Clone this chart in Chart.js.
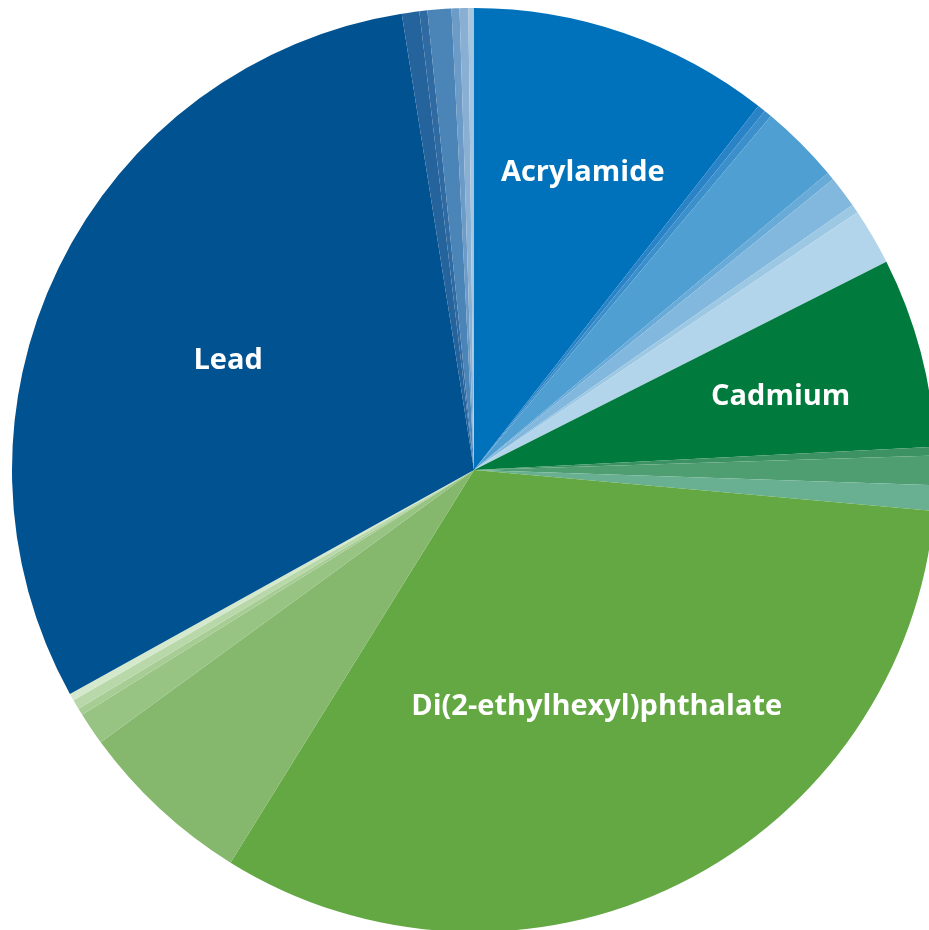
<!DOCTYPE html>
<html>
<head>
<meta charset="utf-8">
<script src="https://cdn.jsdelivr.net/npm/chart.js@4"></script>
<style>
    html, body { margin: 0; padding: 0; background: #fff; overflow: hidden; }
    #wrap { position: absolute; left: 0; top: 0; width: 948px; height: 940px; }
</style>
</head>
<body>
<div id="wrap"><canvas id="pieChart"></canvas></div>
<script>
// slice names (null = unlabelled small slice)
const sliceNames = [
    'Acrylamide', null, null, null, null, null, null, null,
    'Cadmium', null, null, null,
    'Di(2-ethylhexyl)phthalate', null, null, null, null, null,
    'Lead', null, null, null, null, null, null
];

// shares (degrees of the circle)
const sliceValues = [
    38.0, 1.0, 1.0, 10.0, 1.0, 4.0, 1.1, 7.1,
    23.9, 1.1, 3.7, 3.2,
    116.7, 22.1, 4.1, 0.9, 1.2, 0.9,
    110.0, 2.2, 1.0, 3.0, 1.0, 1.1, 0.7
];

const sliceColors = [
    '#0072bc', '#2a83c6', '#3b8fcb', '#4f9fd3', '#68aad8', '#82b8dd', '#9cc8e4', '#b3d5eb',
    '#007a3d', '#3d9263', '#4f9e71', '#69b092',
    '#63a843', '#85b86c', '#97c383', '#a7cd95', '#b8d8aa', '#d4e8cc',
    '#005291', '#25639d', '#2f6aa2', '#4b84b6', '#6b9bc6', '#89b0d3', '#a6c5df'
];

// where each name sits: fraction of radius, plus a small pixel nudge
const labelSpots = {
    'Acrylamide': { r: 0.69, dx: 5, dy: 4 },
    'Cadmium': { r: 0.68, dx: 3, dy: 7 },
    'Di(2-ethylhexyl)phthalate': { r: 0.57, dx: 5, dy: 1 },
    'Lead': { r: 0.585, dx: -3, dy: 9 }
};

const sliceLabels = {
    id: 'sliceLabels',
    afterDatasetsDraw(chart) {
        const ctx = chart.ctx;
        const meta = chart.getDatasetMeta(0);
        ctx.save();
        ctx.fillStyle = '#ffffff';
        ctx.font = 'bold 29px "Open Sans"';
        ctx.textAlign = 'center';
        ctx.textBaseline = 'middle';
        meta.data.forEach((arc, i) => {
            const name = sliceNames[i];
            if (!name) return;
            const spot = labelSpots[name];
            const p = arc.getProps(['x', 'y', 'startAngle', 'endAngle', 'outerRadius'], true);
            const mid = (p.startAngle + p.endAngle) / 2;
            const r = p.outerRadius * spot.r;
            ctx.fillText(name, p.x + Math.cos(mid) * r + spot.dx, p.y + Math.sin(mid) * r + spot.dy);
        });
        ctx.restore();
    }
};

new Chart(document.getElementById('pieChart'), {
    type: 'pie',
    data: {
        labels: sliceNames.map((n, i) => n || ('slice ' + (i + 1))),
        datasets: [{
            data: sliceValues,
            backgroundColor: sliceColors,
            borderWidth: 0
        }]
    },
    options: {
        responsive: true,
        maintainAspectRatio: false,
        animation: false,
        layout: { padding: { left: 12, right: 12, top: 8, bottom: 8 } },
        plugins: {
            legend: { display: false },
            tooltip: { enabled: false }
        }
    },
    plugins: [sliceLabels]
});
</script>
</body>
</html>
